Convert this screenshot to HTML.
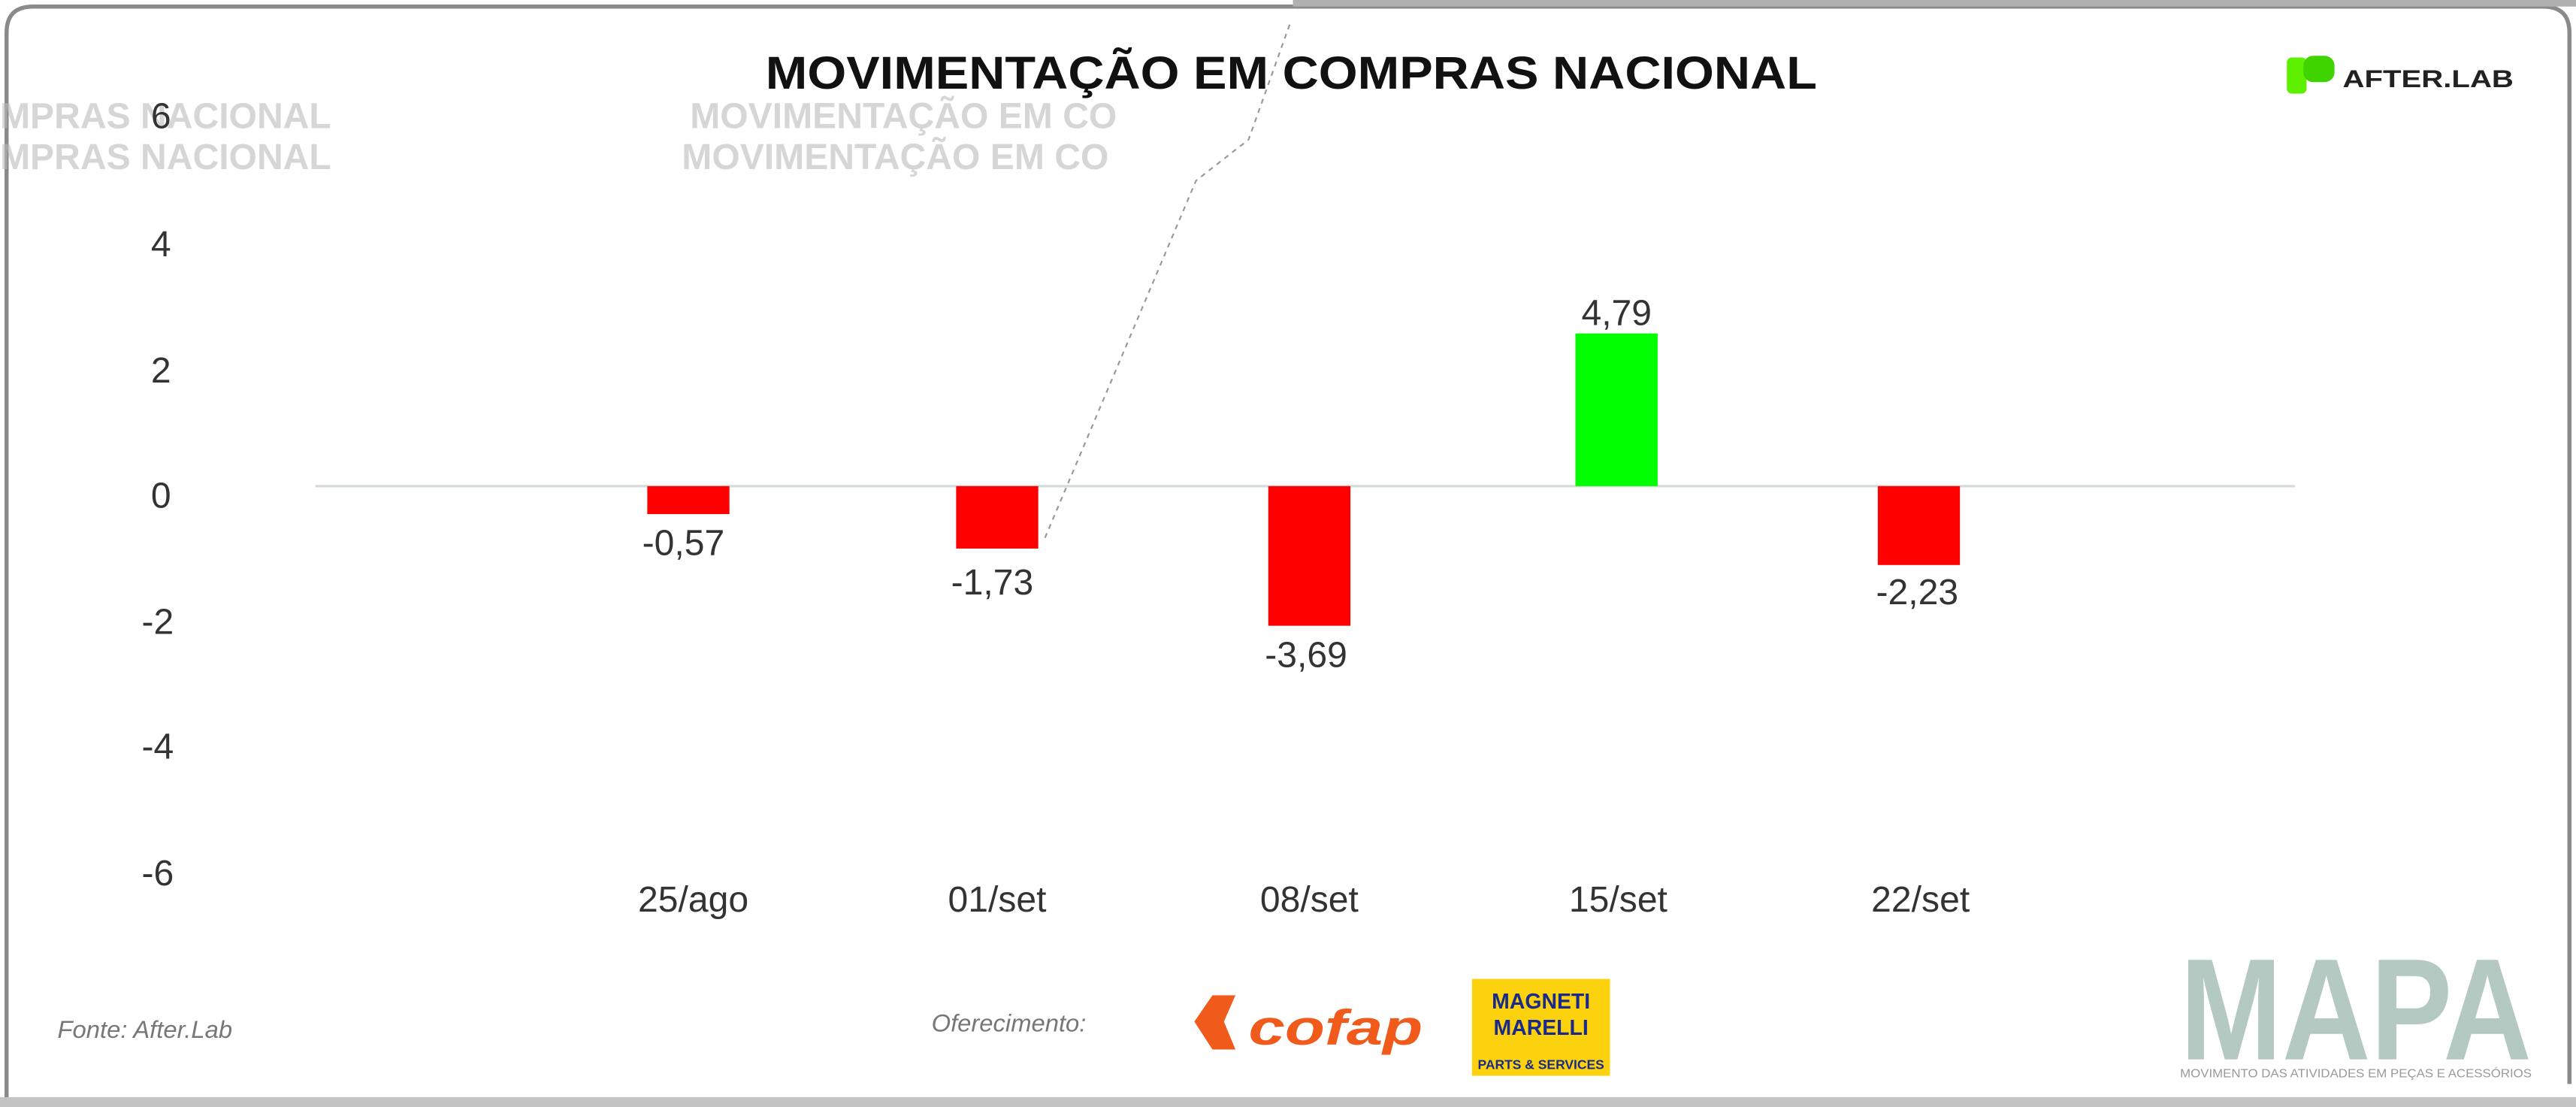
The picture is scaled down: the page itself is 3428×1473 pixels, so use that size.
<!DOCTYPE html>
<html><head><meta charset="utf-8"><style>
html,body{margin:0;padding:0;background:#fff;}
svg{display:block;}
</style></head><body>
<svg width="3428" height="1473" viewBox="0 0 1568 674" preserveAspectRatio="none" xmlns="http://www.w3.org/2000/svg" font-family="'Liberation Sans', sans-serif">
<rect x="0" y="0" width="1568" height="674" fill="#fff"/>
<!-- frame -->
<path d="M4 674 V20 Q4 4 20 4 H1548 Q1564 4 1564 20 V660" fill="none" stroke="#8a8a8a" stroke-width="2.5"/>
<rect x="0" y="668" width="1568" height="6" fill="#c4c4c4"/>
<rect x="787" y="0" width="781" height="4" fill="#b0b0b0"/>
<!-- ghost texts -->
<g fill="#bbb" font-size="22" font-weight="bold" opacity="0.6">
<text x="0" y="78">MPRAS NACIONAL</text>
<text x="0" y="103">MPRAS NACIONAL</text>
<text x="420" y="78">MOVIMENTAÇÃO EM CO</text>
<text x="415" y="103">MOVIMENTAÇÃO EM CO</text>
</g>
<polyline points="785,15 760,85 728,110 635,330" fill="none" stroke="#999" stroke-width="1" stroke-dasharray="3,3"/>
<!-- title -->
<text x="786" y="54" text-anchor="middle" font-size="28" font-weight="bold" fill="#111" textLength="640" lengthAdjust="spacingAndGlyphs">MOVIMENTAÇÃO EM COMPRAS NACIONAL</text>
<!-- afterlab logo -->
<rect x="1392" y="35" width="12" height="22" rx="3" fill="#5ff000"/>
<rect x="1402" y="34" width="19" height="16" rx="6" fill="#3fd400"/>
<text x="1426" y="53" font-size="15" font-weight="bold" fill="#222" textLength="104" lengthAdjust="spacingAndGlyphs">AFTER.LAB</text>
<!-- axis labels -->
<g font-size="22" fill="#333" text-anchor="middle">
<text x="98" y="78">6</text>
<text x="98" y="156">4</text>
<text x="98" y="233">2</text>
<text x="98" y="309">0</text>
<text x="96" y="386">-2</text>
<text x="96" y="462">-4</text>
<text x="96" y="539">-6</text>
</g>
<line x1="192" y1="296" x2="1397" y2="296" stroke="#d5dbd9" stroke-width="1.5"/>
<!-- bars -->
<rect x="394" y="296" width="50" height="17" fill="#ff0000"/>
<rect x="582" y="296" width="50" height="38" fill="#ff0000"/>
<rect x="772" y="296" width="50" height="85" fill="#ff0000"/>
<rect x="959" y="203" width="50" height="93" fill="#00ff00"/>
<rect x="1143" y="296" width="50" height="48" fill="#ff0000"/>
<g font-size="22" fill="#333" text-anchor="middle">
<text x="416" y="338">-0,57</text>
<text x="604" y="362">-1,73</text>
<text x="795" y="406">-3,69</text>
<text x="984" y="198">4,79</text>
<text x="1167" y="368">-2,23</text>
<text x="422" y="555">25/ago</text>
<text x="607" y="555">01/set</text>
<text x="797" y="555">08/set</text>
<text x="985" y="555">15/set</text>
<text x="1169" y="555">22/set</text>
</g>
<!-- footer -->
<text x="35" y="632" font-size="15" fill="#777" font-style="italic">Fonte: After.Lab</text>
<text x="567" y="628" font-size="15" fill="#777" font-style="italic">Oferecimento:</text>
<polygon points="727,622 738,606 752,606 745,622 752,639 738,639" fill="#f05a1a"/>
<text x="760" y="636" font-size="30" font-weight="bold" font-style="italic" fill="#f05a1a" textLength="106" lengthAdjust="spacingAndGlyphs">cofap</text>
<rect x="896" y="596" width="84" height="59" fill="#fcd20f"/>
<text x="938" y="614" text-anchor="middle" font-size="13" font-weight="bold" fill="#1a2a8a">MAGNETI</text>
<text x="938" y="630" text-anchor="middle" font-size="13" font-weight="bold" fill="#1a2a8a">MARELLI</text>
<text x="938" y="651" text-anchor="middle" font-size="8" font-weight="bold" fill="#1a2a8a">PARTS &amp; SERVICES</text>
<text x="1434" y="645" text-anchor="middle" font-size="88" font-weight="bold" fill="#b3c9c2" textLength="214" lengthAdjust="spacingAndGlyphs">MAPA</text>
<text x="1434" y="656" text-anchor="middle" font-size="7" fill="#999" textLength="214" lengthAdjust="spacingAndGlyphs">MOVIMENTO DAS ATIVIDADES EM PEÇAS E ACESSÓRIOS</text>
</svg>
</body></html>
